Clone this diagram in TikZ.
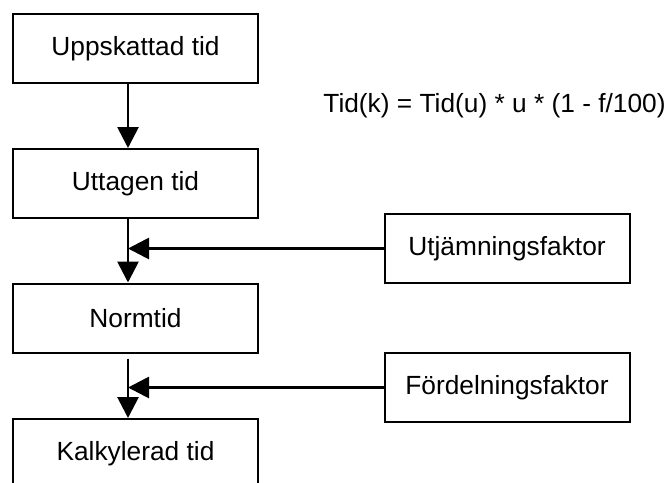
\documentclass[tikz,border=0pt]{standalone}
\usepackage{fontspec}
\setmainfont{Liberation Sans}
\usetikzlibrary{arrows.meta}

\tikzset{
	box/.style={draw, line width=1pt, minimum width=122.5pt, minimum height=34.5pt,
		inner sep=0pt, font=\fontsize{13.15}{16}\selectfont},
	flow/.style={line width=1.4pt, -{Triangle[length=10.5pt,width=10.5pt]}},
}

\begin{document}
\begin{tikzpicture}[x=0.5pt, y=-0.5pt]
	\useasboundingbox (0,0) rectangle (672,482);
	\node[box] (upp) at (135.5, 48.5) {Uppskattad tid};
	\node[box] (utt) at (135.5, 183.5) {Uttagen tid};
	\node[box] (norm) at (135.5, 318) {Normtid};
	\node[box] (kalk) at (135.5, 453.5) {Kalkylerad tid};
	\node[box] (utj) at (507, 248.5) {Utjämningsfaktor};
	\node[box] (ford) at (507, 387.5) {Fördelningsfaktor};
	\node[anchor=base west, inner sep=0pt, font=\fontsize{13.15}{16}\selectfont] (formel) at (323, 112)
		{Tid(k) = Tid(u) * u * (1 - f/100)};
	\coordinate (spine) at (128, 0);
	\draw [flow] (upp.south -| spine) -- (utt.north -| spine);
	\draw [flow] (utt.south -| spine) -- (norm.north -| spine);
	\draw [flow, shorten <=2.5pt] (norm.south -| spine) -- (kalk.north -| spine);
	\draw [flow] (utj.west) -- (utj.west -| spine);
	\draw [flow] (ford.west) -- (ford.west -| spine);
\end{tikzpicture}
\end{document}
